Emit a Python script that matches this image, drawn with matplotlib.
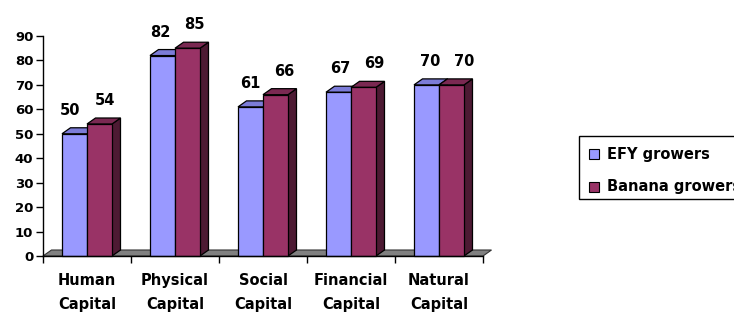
import matplotlib
matplotlib.use("Agg")
import matplotlib.pyplot as plt
from matplotlib.patches import Polygon, Rectangle

# ---- data ----
categories = ["Human Capital", "Physical Capital", "Social Capital",
              "Financial Capital", "Natural Capital"]
series_names = ["EFY growers", "Banana growers"]
efy = [50, 82, 61, 67, 70]
banana = [54, 85, 66, 69, 70]
yticks = [0, 10, 20, 30, 40, 50, 60, 70, 80, 90]

# ---- style ----
W, H, DPI = 734, 312, 100
FONT = "DejaVu Sans"
plt.rcParams['font.family'] = [FONT]
front_colors = ['#9999FF', '#993366']
top_colors = ['#7C7CD8', '#7A2952']
side_colors = ['#5E5EAA', '#4D1A33']

fig = plt.figure(figsize=(W / DPI, H / DPI), dpi=DPI)
fig.patch.set_facecolor('white')
ax = fig.add_axes([43 / W, 56 / H, 440 / W, 220 / H])
ax.set_xlim(0, len(categories))
ax.set_ylim(0, 90)
ax.patch.set_visible(False)

px_x = 440 / len(categories)   # pixels per category
px_y = 220 / 90                # pixels per unit
DX, DY = 8.5 / px_x, 6 / px_y  # depth offsets in data units
bw = 25 / px_x

# floor
floor = Polygon([(0, 0), (len(categories), 0),
                 (len(categories) + DX, DY), (DX, DY)],
                closed=True, facecolor='#808080', edgecolor='#333333',
                linewidth=0.8, clip_on=False, zorder=1)
ax.add_patch(floor)

series = [efy, banana]
for i in range(len(categories)):
    for s, vals in enumerate(series):
        h = vals[i]
        x0 = i + 0.5 - bw + s * bw
        x1 = x0 + bw
        z = 2 + i * 10 + s * 3
        side = Polygon([(x1, 0), (x1 + DX, DY), (x1 + DX, h + DY), (x1, h)],
                       closed=True, facecolor=side_colors[s], edgecolor='black',
                       linewidth=0.9, clip_on=False, zorder=z)
        top = Polygon([(x0, h), (x1, h), (x1 + DX, h + DY), (x0 + DX, h + DY)],
                      closed=True, facecolor=top_colors[s], edgecolor='black',
                      linewidth=0.9, clip_on=False, zorder=z)
        ax.add_patch(side)
        ax.add_patch(top)
        ax.bar(x0, h, width=bw, align='edge', color=front_colors[s],
               edgecolor='black', linewidth=0.9, zorder=z + 1, clip_on=False)

# data labels
for i in range(len(categories)):
    for s, vals in enumerate(series):
        h = vals[i]
        x0 = i + 0.5 - bw + s * bw
        off = (-4.5 + 2.0 * i) if s == 0 else (5.0 + 1.8 * i)
        ax.annotate(str(h), xy=(x0 + bw / 2, h), xytext=(off * 0.72, 19 * 0.72),
                    textcoords='offset points', ha='center', va='baseline',
                    fontsize=10.5, fontweight='bold', color='black',
                    annotation_clip=False, zorder=100)

# axes styling
for sp in ['top', 'right']:
    ax.spines[sp].set_visible(False)
ax.spines['left'].set_linewidth(1.0)
ax.spines['bottom'].set_linewidth(1.0)
ax.spines['bottom'].set_zorder(60)
ax.spines['left'].set_zorder(60)
ax.set_yticks(yticks)
ax.set_yticklabels([str(t) for t in yticks])
ax.set_xticks(range(len(categories) + 1))
ax.set_xticklabels([])
ax.tick_params(axis='both', direction='out', length=5, width=1.0, pad=2,
               labelsize=9.5)
for lbl in ax.get_yticklabels():
    lbl.set_fontweight('bold')

# category labels (two lines)
for i, name in enumerate(categories):
    first, second = name.split(" ", 1)
    for line, dy in ((first, -29), (second, -52.5)):
        ax.annotate(line, xy=(i + 0.5, 0), xycoords=('data', 'axes fraction'),
                    xytext=(0, dy * 0.72), textcoords='offset points',
                    ha='center', va='baseline', fontsize=10.5,
                    fontweight='bold', annotation_clip=False)

# legend (drawn manually, partly cut by the right edge as in the original)
fig.patches.append(Rectangle((579 / W, 1 - 199 / H), 200 / W, 63 / H,
                             transform=fig.transFigure, facecolor='white',
                             edgecolor='black', linewidth=1.0, zorder=5))
for k, name in enumerate(series_names):
    base = [159.3, 191.5][k]
    fig.patches.append(Rectangle((588.5 / W, 1 - base / H), 10 / W, 10 / H,
                                 transform=fig.transFigure,
                                 facecolor=front_colors[k], edgecolor='black',
                                 linewidth=0.8, zorder=6))
    fig.text(607 / W, 1 - base / H, name, ha='left', va='baseline',
             fontsize=10.5, fontweight='bold', zorder=7)

fig.savefig('out.png', dpi=DPI)
